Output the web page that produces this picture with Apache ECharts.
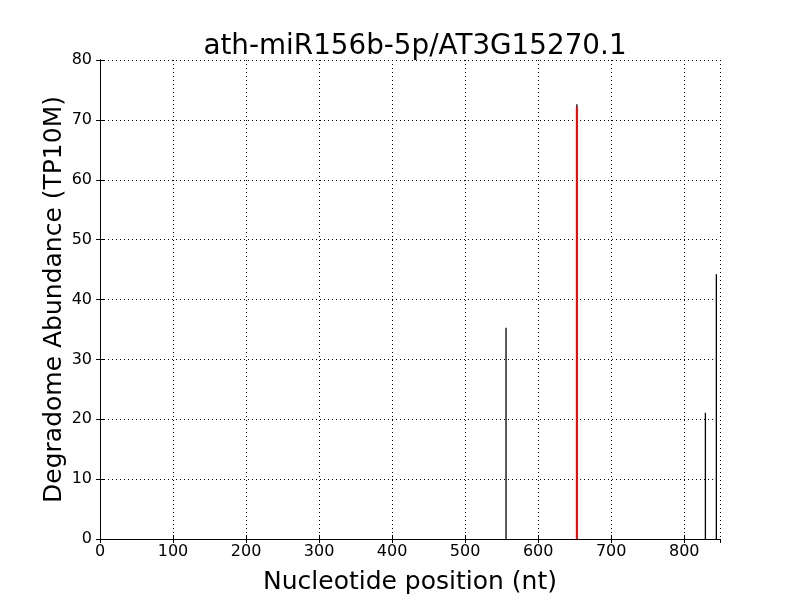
<!DOCTYPE html>
<html>
<head>
<meta charset="utf-8">
<script src="https://cdn.jsdelivr.net/npm/echarts@6/dist/echarts.min.js"></script>
<style>
  html, body { margin: 0; padding: 0; background: #fff; }
  #chart { width: 800px; height: 600px; }
</style>
</head>
<body>
<div id="chart"></div>
<script>
var titleText = 'ath-miR156b-5p/AT3G15270.1'
// degradome peaks: position (nt) and abundance
var peakPos = [556, 653, 829, 844]
var peakVal = [35.3, 72.6, 21.1, 44.2]
// the cleavage site highlighted in red
var sitePos = 653
var siteVal = 72.1
var xMax = 849

var chart = echarts.init(document.getElementById('chart'))

var series = []
peakPos.forEach(function (p, i) {
  series.push({
    type: 'line',
    data: [[p, 0], [p, peakVal[i]]],
    showSymbol: false,
    silent: true,
    lineStyle: { color: '#000', width: 1.3 }
  })
})
series.push({
  type: 'line',
  data: [[sitePos, 0], [sitePos, siteVal]],
  showSymbol: false,
  silent: true,
  lineStyle: { color: '#ff0000', width: 2 }
})

var font = 'DejaVu Sans'
var tickStyle = { show: true, inside: true, length: 4, lineStyle: { color: '#000' } }
var gridLine = { show: true, lineStyle: { color: '#000', type: [1, 3], width: 1 } }

chart.setOption({
  animation: false,
  title: {
    text: titleText,
    left: 410,
    textAlign: 'center',
    top: 28,
    textStyle: { fontFamily: font, fontSize: 27.8, fontWeight: 'normal', color: '#000' }
  },
  grid: { left: 100, right: 80, top: 60, bottom: 60 },
  xAxis: [
    {
      type: 'value',
      min: 0,
      max: xMax,
      interval: 100,
      name: 'Nucleotide position (nt)',
      nameLocation: 'middle',
      nameGap: 31,
      nameMoveOverlap: false,
      nameTextStyle: { fontFamily: font, fontSize: 25, color: '#000' },
      axisLine: { show: true, onZero: false, lineStyle: { color: '#000' } },
      axisTick: tickStyle,
      axisLabel: { fontFamily: font, fontSize: 16, color: '#000', margin: 5, showMaxLabel: false },
      splitLine: gridLine
    },
    {
      type: 'value',
      position: 'top',
      min: 0,
      max: xMax,
      interval: 100,
      axisLine: { show: true, lineStyle: { color: '#000' } },
      axisTick: tickStyle,
      axisLabel: { show: false },
      splitLine: { show: false }
    }
  ],
  yAxis: [
    {
      type: 'value',
      min: 0,
      max: 80,
      interval: 10,
      name: 'Degradome Abundance (TP10M)',
      nameLocation: 'middle',
      nameGap: 33,
      nameMoveOverlap: false,
      nameTextStyle: { fontFamily: font, fontSize: 25, color: '#000' },
      axisLine: { show: true, lineStyle: { color: '#000' } },
      axisTick: tickStyle,
      axisLabel: { fontFamily: font, fontSize: 16, color: '#000', margin: 8 },
      splitLine: gridLine
    },
    {
      type: 'value',
      position: 'right',
      min: 0,
      max: 80,
      interval: 10,
      axisLine: { show: true, lineStyle: { color: '#000' } },
      axisTick: tickStyle,
      axisLabel: { show: false },
      splitLine: { show: false }
    }
  ],
  series: series
})
</script>
</body>
</html>
